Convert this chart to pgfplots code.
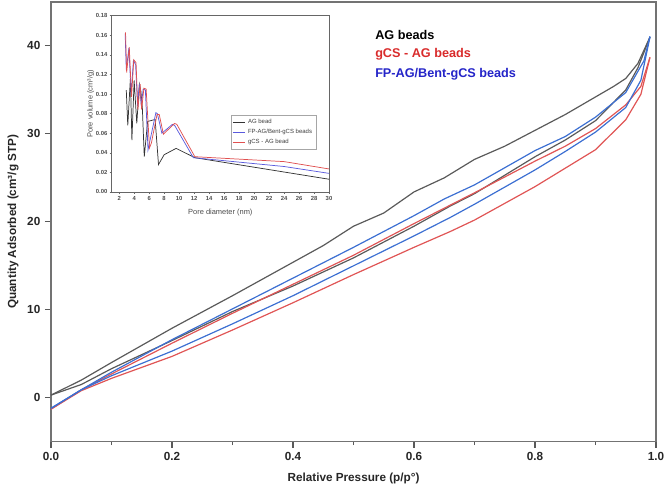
\documentclass[border=0pt]{standalone}
\usepackage{pgfplots}
\pgfplotsset{compat=1.18}
\usepackage{fontspec}
\setmainfont{Liberation Sans}
\definecolor{cblk}{HTML}{5A5A5A}
\definecolor{cred}{HTML}{E05555}
\definecolor{cblu}{HTML}{3C6FD2}
\definecolor{tred}{HTML}{D92B2B}
\definecolor{tblu}{HTML}{2424C8}
\definecolor{iblk}{HTML}{333333}
\definecolor{iblu}{HTML}{5A5ADD}
\definecolor{ired}{HTML}{E05050}
\begin{document}
\begin{tikzpicture}
\begin{axis}[
  at={(0,0)}, anchor=south west, scale only axis,
  width=453.75pt, height=329.8pt,
  xmin=0, xmax=1, ymin=-5, ymax=45,
  xtick={0,0.2,0.4,0.6,0.8,1.0},
  minor xtick={0.1,0.3,0.5,0.7,0.9},
  ytick={0,10,20,30,40},
  xtick pos=bottom, ytick pos=left,
  tick align=outside,
  major tick length=4.5pt, minor tick length=2.5pt,
  axis line style={draw=gray!90!black, line width=0.9pt},
  every tick/.style={draw=gray!70!black, line width=0.8pt},
  /pgf/number format/assume math mode=true,
  tick label style={font=\fontsize{8.8}{10}\selectfont\bfseries, text=black!85},
  xticklabel style={/pgf/number format/fixed, /pgf/number format/precision=1, /pgf/number format/fixed zerofill},
  xlabel={Relative Pressure (p/p°)},
  ylabel={Quantity Adsorbed (cm³/g STP)},
  label style={font=\fontsize{8.8}{10}\selectfont\bfseries, text=black!85},
  xlabel style={at={(axis description cs:0.5,-0.0825)}, anchor=center},
  ylabel style={at={(axis description cs:-0.0628,0.5)}, anchor=center},
  every axis plot/.append style={line width=0.9pt, no marks},
]
% AG beads
\addplot[cblk] coordinates {(0,0.3)(0.05,2.0)(0.1,4.0)(0.2,7.9)(0.3,11.6)(0.4,15.4)(0.45,17.3)(0.5,19.5)(0.55,21.0)(0.6,23.4)(0.65,25.0)(0.7,27.1)(0.75,28.6)(0.8,30.4)(0.85,32.2)(0.9,34.2)(0.93,35.4)(0.95,36.3)(0.97,38.0)(0.99,41.0)};
\addplot[cblk] coordinates {(0,0.3)(0.05,1.5)(0.1,3.3)(0.2,6.5)(0.3,9.8)(0.4,12.7)(0.5,15.9)(0.6,19.5)(0.66,21.8)(0.7,23.2)(0.8,27.4)(0.85,29.3)(0.9,31.5)(0.95,35.0)(0.97,37.5)(0.99,41.0)};
% gCS - AG beads
\addplot[cred] coordinates {(0,-1.3)(0.05,0.9)(0.1,2.7)(0.2,6.2)(0.3,9.6)(0.4,12.9)(0.5,16.2)(0.6,19.8)(0.66,21.9)(0.7,23.3)(0.8,26.9)(0.85,28.6)(0.9,30.6)(0.95,33.3)(0.975,35.4)(0.99,38.7)};
\addplot[cred] coordinates {(0,-1.3)(0.05,0.8)(0.1,2.2)(0.2,4.7)(0.3,7.7)(0.4,10.8)(0.5,14.0)(0.6,17.1)(0.66,18.9)(0.7,20.2)(0.8,24.0)(0.85,26.1)(0.9,28.2)(0.95,31.6)(0.975,34.5)(0.99,38.7)};
% FP-AG/Bent-gCS beads
\addplot[cblu] coordinates {(0,-1.2)(0.05,0.9)(0.1,2.9)(0.2,6.6)(0.3,10.1)(0.4,13.6)(0.5,17.1)(0.6,20.7)(0.65,22.6)(0.7,24.2)(0.8,28.1)(0.85,29.7)(0.9,31.9)(0.95,34.7)(0.98,38.3)(0.99,41.1)};
\addplot[cblu] coordinates {(0,-1.2)(0.05,0.9)(0.1,2.5)(0.2,5.3)(0.3,8.4)(0.4,11.6)(0.5,15.0)(0.6,18.4)(0.66,20.5)(0.7,22.0)(0.8,25.9)(0.85,28.0)(0.9,30.2)(0.95,33.0)(0.975,36.1)(0.99,41.0)};
\node[anchor=west, font=\fontsize{9.5}{11}\selectfont\bfseries, text=black, inner sep=0pt] at (rel axis cs:0.5355,0.925) {AG beads};
\node[anchor=west, font=\fontsize{9.5}{11}\selectfont\bfseries, text=tred, inner sep=0pt] at (rel axis cs:0.5355,0.881) {gCS - AG beads};
\node[anchor=west, font=\fontsize{9.5}{11}\selectfont\bfseries, text=tblu, inner sep=0pt] at (rel axis cs:0.5355,0.8356) {FP-AG/Bent-gCS beads};
\end{axis}
\begin{axis}[
  at={(45.5pt,187.3pt)}, anchor=south west, scale only axis,
  width=163pt, height=132.2pt,
  xmin=1, xmax=30, ymin=0, ymax=0.18,
  xtick={2,4,...,30},
  ytick={0,0.02,0.04,0.06,0.08,0.10,0.12,0.14,0.16,0.18},
  xtick pos=bottom, ytick pos=left,
  tick align=outside,
  major tick length=1.5pt,
  axis line style={draw=gray!80!black, line width=0.5pt},
  every tick/.style={draw=gray!80!black, line width=0.4pt},
  /pgf/number format/assume math mode=true,
  tick label style={font=\fontsize{4.4}{5}\selectfont\bfseries, text=black!70, inner sep=1.5pt},
  yticklabel style={/pgf/number format/fixed, /pgf/number format/precision=2, /pgf/number format/fixed zerofill},
  xlabel={Pore diameter (nm)},
  ylabel={Pore volume (cm³/g)},
  label style={font=\fontsize{5.6}{6.5}\selectfont, text=black!70},
  xlabel style={at={(axis description cs:0.5,-0.119)}, anchor=center},
  ylabel style={at={(axis description cs:-0.097,0.5)}, anchor=center},
  every axis plot/.append style={line width=0.55pt, no marks},
  legend style={at={(axis cs:28.3,0.0786)}, anchor=north east, font=\fontsize{4.5}{5}\selectfont, draw=gray!70, line width=0.3pt, inner sep=1pt, row sep=-1.2pt, text=black!75},
  legend cell align=left,
  legend image code/.code={\draw[#1, line width=0.6pt] (0cm,0cm) -- (0.32cm,0cm);},
]
\addplot[iblk] coordinates {(2.95,0.104)(3.15,0.068)(3.5,0.116)(3.7,0.053)(4.0,0.114)(4.35,0.070)(4.7,0.110)(4.9,0.103)(5.1,0.085)(5.35,0.036)(5.8,0.072)(6.8,0.074)(7.25,0.028)(8.0,0.038)(9.6,0.0445)(12.1,0.035)(30,0.013)};
\addlegendentry{AG bead}
\addplot[iblu] coordinates {(2.8,0.162)(2.95,0.125)(3.3,0.147)(3.6,0.100)(3.9,0.134)(4.2,0.130)(4.45,0.088)(4.7,0.110)(4.95,0.088)(5.2,0.105)(5.5,0.104)(5.85,0.043)(6.9,0.081)(7.1,0.080)(7.7,0.060)(9.1,0.069)(9.4,0.068)(11.9,0.035)(24,0.026)(30,0.019)};
\addlegendentry{FP-AG/Bent-gCS beads}
\addplot[ired] coordinates {(2.85,0.163)(3.0,0.122)(3.35,0.148)(3.65,0.097)(3.95,0.135)(4.25,0.132)(4.5,0.084)(4.8,0.110)(5.0,0.084)(5.3,0.106)(5.6,0.105)(6.05,0.045)(6.3,0.050)(7.05,0.079)(7.35,0.079)(7.9,0.059)(9.4,0.070)(9.7,0.069)(12.1,0.036)(24.0,0.031)(30,0.0235)};
\addlegendentry{gCS - AG bead}
\end{axis}
\pgfresetboundingbox
\useasboundingbox (-38.25pt,-36.975pt) rectangle (461.25pt,331.275pt);
\end{tikzpicture}
\end{document}
